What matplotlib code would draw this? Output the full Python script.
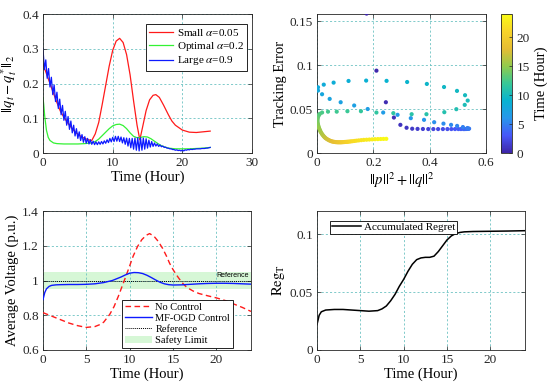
import numpy as np
import matplotlib
matplotlib.use("Agg")
import matplotlib.pyplot as plt
from matplotlib.colors import LinearSegmentedColormap
from matplotlib.ticker import FuncFormatter
from matplotlib.patches import Patch
from matplotlib.lines import Line2D

plt.rcParams['font.family'] = ['Liberation Serif', 'DejaVu Serif']
plt.rcParams['mathtext.fontset'] = 'stix'

# ---------------- Panel 1 data ----------------
t_red = [0, 0.5, 1, 1.5, 2, 2.5, 3, 3.5, 4, 4.5, 5, 5.5, 6, 6.5, 7, 7.5, 8, 8.5, 9, 9.5,
         10, 10.5, 11, 11.5, 12, 12.5, 13, 13.5, 13.9, 14.3, 14.8, 15.3, 15.8, 16.2, 16.7,
         17.3, 18, 18.5, 19, 20, 21, 22, 23, 24]
small_alpha = [0.255, 0.228, 0.2, 0.172, 0.145, 0.12, 0.103, 0.088, 0.075, 0.063, 0.054,
               0.047, 0.042, 0.038, 0.036, 0.055, 0.088, 0.14, 0.195, 0.25, 0.295, 0.322,
               0.33, 0.318, 0.283, 0.225, 0.15, 0.08, 0.038, 0.075, 0.122, 0.153, 0.166,
               0.168, 0.16, 0.138, 0.11, 0.092, 0.08, 0.066, 0.06, 0.059, 0.061, 0.063]

t_green = [0, 0.1, 0.25, 0.5, 0.75, 1, 1.5, 2, 3, 4, 5, 6, 7, 7.5, 8, 8.5, 9, 9.5, 10, 10.5,
           11, 11.5, 12, 12.5, 13, 13.5, 14, 14.5, 15, 15.5, 16, 16.5, 17, 17.5, 18, 19, 20,
           21, 22, 23, 24]
optimal_alpha = [0.16, 0.14, 0.105, 0.065, 0.045, 0.036, 0.029, 0.027, 0.026, 0.026, 0.026,
                 0.027, 0.029, 0.033, 0.04, 0.05, 0.06, 0.07, 0.078, 0.082, 0.083, 0.079,
                 0.07, 0.058, 0.048, 0.044, 0.045, 0.047, 0.046, 0.041, 0.034, 0.027, 0.021,
                 0.017, 0.014, 0.012, 0.012, 0.012, 0.013, 0.014, 0.016]

t_blue = [round(i * 0.2, 1) for i in range(121)]
large_alpha = [0.300, 0.240, 0.268, 0.215, 0.243, 0.190, 0.218, 0.168, 0.196, 0.148,
               0.175, 0.128, 0.155, 0.110, 0.137, 0.094, 0.120, 0.080, 0.105, 0.068,
               0.092, 0.058, 0.080, 0.049, 0.070, 0.042, 0.061, 0.036, 0.053, 0.031,
               0.047, 0.028, 0.042, 0.026, 0.038, 0.025, 0.034, 0.024, 0.032, 0.024,
               0.032, 0.025, 0.033, 0.026, 0.035, 0.028, 0.038, 0.030, 0.042, 0.032,
               0.045, 0.033, 0.048, 0.034, 0.048, 0.033, 0.046, 0.029, 0.044, 0.025,
               0.043, 0.020, 0.042, 0.015, 0.042, 0.011, 0.043, 0.008, 0.044, 0.006,
               0.044, 0.008, 0.043, 0.011, 0.041, 0.014, 0.037, 0.017, 0.033, 0.019,
               0.029, 0.020, 0.026, 0.019, 0.023, 0.018, 0.020, 0.016, 0.017, 0.014,
               0.014, 0.012, 0.012, 0.010, 0.010, 0.008, 0.009, 0.007, 0.008, 0.006,
               0.008, 0.006, 0.009, 0.008, 0.010, 0.009, 0.011, 0.010, 0.011, 0.011,
               0.012, 0.012, 0.012, 0.012, 0.013, 0.013, 0.013, 0.014, 0.014, 0.015,
               0.016]

# ---------------- Panel 2 data ----------------
pq_norm = [0.176, 0.211, 0.2445, 0.273, 0.296, 0.318,
           0.338, 0.357, 0.376, 0.395, 0.413, 0.430, 0.447, 0.463, 0.477, 0.490, 0.502, 0.511,
           0.520, 0.525, 0.531, 0.535, 0.538, 0.540,
           0.534, 0.518, 0.4975, 0.476, 0.449, 0.416, 0.380, 0.333, 0.286, 0.235, 0.180, 0.132,
           0.084, 0.045, 0.018, 0.0036,
           0.0036, 0.024, 0.059, 0.112, 0.1745, 0.247, 0.320, 0.390, 0.451, 0.497, 0.5256,
           0.535, 0.5245, 0.4947,
           0.452, 0.3886, 0.336, 0.271, 0.211, 0.156, 0.108, 0.070, 0.039, 0.018,
           0.010, 0.007, 0.005, 0.003, 0.002, 0.0015, 0.0015, 0.002, 0.003, 0.004, 0.0055,
           0.007, 0.009, 0.011, 0.013, 0.0155, 0.018, 0.021, 0.024, 0.027, 0.030, 0.034,
           0.038, 0.042, 0.046, 0.050, 0.054, 0.058, 0.062, 0.066, 0.070, 0.074, 0.078,
           0.082, 0.086, 0.090, 0.094, 0.098, 0.102, 0.106, 0.110, 0.115, 0.120, 0.126,
           0.133, 0.140, 0.148, 0.157, 0.166, 0.176, 0.186, 0.196, 0.206, 0.216, 0.226,
           0.236, 0.246]
tracking_err = [0.1585, 0.0936, 0.0577, 0.0403, 0.032, 0.0287,
                0.0276, 0.0274, 0.0273, 0.0272, 0.0272, 0.0272, 0.0272, 0.0272, 0.0272, 0.0272,
                0.0272, 0.0272, 0.0272, 0.0272, 0.0273, 0.0274, 0.0275, 0.0277,
                0.0284, 0.0295, 0.0308, 0.032, 0.0334, 0.035, 0.0377, 0.0396, 0.0434, 0.046,
                0.050, 0.054, 0.0577, 0.0615, 0.0668, 0.071,
                0.0747, 0.0777, 0.080, 0.0819, 0.0823, 0.082, 0.0807, 0.0785, 0.075, 0.0706,
                0.0657, 0.0596, 0.0547, 0.0498,
                0.0464, 0.0441, 0.0441, 0.0453, 0.046, 0.0475, 0.0475, 0.047, 0.047, 0.046,
                0.0445, 0.0435, 0.042, 0.0405, 0.039, 0.0375, 0.036, 0.0345, 0.033, 0.0315,
                0.030, 0.0285, 0.027, 0.0255, 0.024, 0.0227, 0.0214, 0.0202, 0.019, 0.018,
                0.017, 0.0161, 0.0153, 0.0146, 0.014, 0.0135, 0.0131, 0.0128, 0.0126, 0.0124,
                0.0123, 0.0122, 0.0122, 0.0122, 0.0122, 0.0123, 0.0124, 0.0125, 0.0126,
                0.0127, 0.0128, 0.013, 0.0132, 0.0134,
                0.0137, 0.014, 0.0143, 0.0146, 0.0149, 0.0151, 0.0153, 0.0155, 0.0157,
                0.0158, 0.0159, 0.016, 0.0161]
scatter_time = np.linspace(0, 24, len(pq_norm))

# ---------------- Panel 3 data ----------------
t_noctrl = [0, 1, 2, 3, 4, 5, 6, 6.6, 7, 7.7, 8.2, 8.7, 9.35, 9.9, 10.4, 10.9, 11.4, 11.9,
            12.3, 12.8, 13.3, 13.8, 14.25, 14.6, 15, 15.5, 16, 16.6, 17.3, 18, 19, 20, 21,
            22, 23, 24]
v_noctrl = [0.815, 0.795, 0.775, 0.755, 0.74, 0.73, 0.735, 0.747, 0.76, 0.805, 0.85, 0.91,
            0.996, 1.07, 1.14, 1.195, 1.235, 1.26, 1.27, 1.255, 1.225, 1.185, 1.14, 1.1,
            1.063, 1.025, 0.99, 0.96, 0.94, 0.925, 0.912, 0.9, 0.885, 0.865, 0.845, 0.822]
t_mfogd = [0, 0.2, 0.4, 0.7, 1, 1.5, 2, 3, 4, 5, 6, 7, 8, 8.5, 9, 9.5, 10, 10.5, 11, 11.5,
           12, 12.5, 13, 13.5, 14, 14.5, 15, 16, 17, 18, 19, 20, 21, 22, 23, 24]
v_mfogd = [0.89, 0.93, 0.952, 0.966, 0.972, 0.975, 0.976, 0.977, 0.977, 0.978, 0.981, 0.988,
           1.0, 1.01, 1.02, 1.032, 1.042, 1.046, 1.045, 1.04, 1.03, 1.017, 1.003, 0.99,
           0.981, 0.976, 0.974, 0.975, 0.978, 0.981, 0.983, 0.984, 0.984, 0.983, 0.981, 0.979]
v_ref = 1.0
v_low, v_high = 0.95, 1.05

# ---------------- Panel 4 data ----------------
t_reg = [0, 0.25, 0.5, 1, 2, 3, 4, 5, 6, 7, 7.5, 8, 8.5, 9, 9.5, 10, 10.5, 11, 11.5, 12,
         12.5, 13, 13.5, 14, 14.5, 15, 15.5, 16, 16.5, 17, 18, 20, 22, 24]
regret = [0.022, 0.03, 0.033, 0.0345, 0.035, 0.035, 0.0345, 0.034, 0.0335, 0.034, 0.0355,
          0.038, 0.0425, 0.048, 0.055, 0.061, 0.068, 0.074, 0.078, 0.0795, 0.08, 0.08,
          0.081, 0.085, 0.09, 0.095, 0.0985, 0.1005, 0.1015, 0.102, 0.1023, 0.1025, 0.1027,
          0.103]

# ---------------- styling ----------------
parula = LinearSegmentedColormap.from_list('parula', [
    (0.000, (0.2422, 0.1504, 0.6603)),
    (0.125, (0.2800, 0.3400, 0.9750)),
    (0.250, (0.1540, 0.5902, 0.9218)),
    (0.375, (0.0300, 0.7000, 0.8200)),
    (0.500, (0.2161, 0.7843, 0.5923)),
    (0.625, (0.5700, 0.7960, 0.3000)),
    (0.750, (0.9000, 0.7400, 0.2000)),
    (0.875, (0.9700, 0.8300, 0.1600)),
    (1.000, (0.9769, 0.9839, 0.0805))])

GRID = (0.42, 0.76, 0.76)
EDGE = '0.15'
LBL = 10.5
TCK = 9.5


def style(ax):
    ax.grid(True, color=GRID, linestyle=(0, (2.5, 2.5)), linewidth=0.6)
    ax.tick_params(direction='in', length=3, width=0.5, colors=EDGE, labelsize=TCK,
                   top=True, right=True, pad=3)
    for s in ax.spines.values():
        s.set_color(EDGE)
        s.set_linewidth(0.6)


gfmt = FuncFormatter(lambda v, p: ('%g' % v))

fig = plt.figure(figsize=(5.5, 3.92), dpi=100)

# Panel 1
ax1 = fig.add_axes([43 / 550, 1 - 153 / 392, 209 / 550, 139 / 392])
style(ax1)
ax1.plot(t_red, small_alpha, color=(1, 0.1, 0.1), lw=0.9, label=r'Small $\alpha$=0.05')
ax1.plot(t_green, optimal_alpha, color=(0.2, 0.95, 0.2), lw=0.9, label=r'Optimal $\alpha$=0.2')
ax1.plot(t_blue, large_alpha, color=(0.05, 0.1, 1), lw=0.9, label=r'Large $\alpha$=0.9')
ax1.set_xlim(0, 30)
ax1.set_ylim(0, 0.4)
ax1.set_xticks([0, 10, 20, 30])
ax1.set_yticks([0, 0.1, 0.2, 0.3, 0.4])
ax1.yaxis.set_major_formatter(gfmt)
ax1.set_xlabel('Time (Hour)', fontsize=LBL, labelpad=1)
ax1.set_ylabel(r'$|{}|q_t-q_t^{*}|{}|_2$', fontsize=LBL, labelpad=2)
leg = ax1.legend(loc='upper right', bbox_to_anchor=(0.976, 0.93), fontsize=8,
                 fancybox=False, edgecolor='k', framealpha=1, borderpad=0.3,
                 handlelength=2.2, handletextpad=0.3, labelspacing=0.15, borderaxespad=0)
leg.get_frame().set_linewidth(0.6)

# Panel 2
ax2 = fig.add_axes([317 / 550, 1 - 153 / 392, 169 / 550, 139 / 392])
style(ax2)
sc = ax2.scatter(pq_norm, tracking_err, c=scatter_time, cmap=parula, vmin=0, vmax=24,
                 s=9, edgecolors='none', zorder=3)
ax2.set_xlim(0, 0.6)
ax2.set_ylim(0, 0.158)
ax2.set_xticks([0, 0.2, 0.4, 0.6])
ax2.set_yticks([0, 0.05, 0.1, 0.15])
ax2.xaxis.set_major_formatter(gfmt)
ax2.yaxis.set_major_formatter(gfmt)
ax2.set_xlabel(r'$|{}|p|{}|^2+|{}|q|{}|^2$', fontsize=LBL, labelpad=1)
ax2.set_ylabel('Tracking Error', fontsize=LBL, labelpad=2)
cax = fig.add_axes([501 / 550, 1 - 153 / 392, 11 / 550, 139 / 392])
cb = fig.colorbar(sc, cax=cax)
cb.set_ticks([0, 5, 10, 15, 20])
cb.outline.set_edgecolor(EDGE)
cb.outline.set_linewidth(0.6)
cax.tick_params(direction='in', length=2, width=0.5, colors=EDGE, labelsize=TCK)
cb.set_label('Time (Hour)', fontsize=LBL, labelpad=3)

# Panel 3
ax3 = fig.add_axes([43 / 550, 1 - 350 / 392, 208 / 550, 139 / 392])
style(ax3)
ax3.fill_between([0, 24], [v_low, v_low], [v_high, v_high], color=(0.84, 0.97, 0.84),
                 linewidth=0, zorder=1)
ax3.plot(t_noctrl, v_noctrl, color=(1, 0.1, 0.1), lw=1.0, ls=(0, (4, 2.5)), zorder=3)
ax3.plot(t_mfogd, v_mfogd, color=(0.05, 0.1, 1), lw=1.0, zorder=3)
ax3.axhline(v_ref, color='k', lw=0.7, ls=(0, (1, 1)), zorder=2)
ax3.text(20.0, 1.028, 'Reference', fontsize=5, family='Liberation Sans', va='center',
         ha='left', color='k')
ax3.set_xlim(0, 24)
ax3.set_ylim(0.6, 1.4)
ax3.set_xticks([0, 5, 10, 15, 20])
ax3.set_yticks([0.6, 0.8, 1.0, 1.2, 1.4])
ax3.yaxis.set_major_formatter(gfmt)
ax3.set_xlabel('Time (Hour)', fontsize=LBL, labelpad=1)
ax3.set_ylabel('Average Voltage (p.u.)', fontsize=LBL, labelpad=2)
handles3 = [Line2D([], [], color=(1, 0.1, 0.1), lw=1.0, ls=(0, (4, 2.5))),
            Line2D([], [], color=(0.05, 0.1, 1), lw=1.0),
            Line2D([], [], color='k', lw=0.7, ls=(0, (1, 1))),
            Patch(facecolor=(0.84, 0.97, 0.84), edgecolor='none')]
leg3 = ax3.legend(handles3, ['No Control', 'MF-OGD Control', 'Reference', 'Safety Limit'],
                  loc='lower left', bbox_to_anchor=(0.38, 0.014), fontsize=7.5,
                  fancybox=False, edgecolor='k', framealpha=1, borderpad=0.3,
                  handlelength=2.6, handletextpad=0.3, labelspacing=0.15, borderaxespad=0)
leg3.get_frame().set_linewidth(0.6)

# Panel 4
ax4 = fig.add_axes([317 / 550, 1 - 350 / 392, 208 / 550, 139 / 392])
style(ax4)
ax4.plot(t_reg, regret, color='k', lw=1.1, label='Accumulated Regret')
ax4.set_xlim(0, 24)
ax4.set_ylim(0, 0.12)
ax4.set_xticks([0, 5, 10, 15, 20])
ax4.set_yticks([0, 0.05, 0.1])
ax4.yaxis.set_major_formatter(gfmt)
ax4.set_xlabel('Time (Hour)', fontsize=LBL, labelpad=1)
ax4.set_ylabel(r'$\mathrm{Reg}_\mathrm{T}$', fontsize=LBL, labelpad=2)
leg4 = ax4.legend(loc='upper left', bbox_to_anchor=(0.0625, 0.93), fontsize=8,
                  fancybox=False, edgecolor='k', framealpha=1, borderpad=0.15,
                  handlelength=2.6, handletextpad=0.3, borderaxespad=0)
leg4.get_frame().set_linewidth(0.6)

fig.savefig('out.png', dpi=100)
